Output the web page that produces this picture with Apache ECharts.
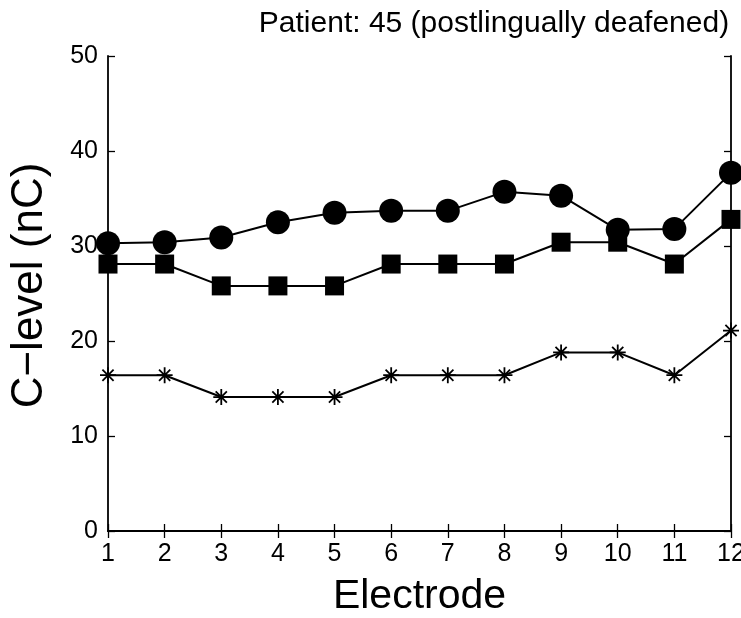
<!DOCTYPE html>
<html><head><meta charset="utf-8">
<script src="https://cdn.jsdelivr.net/npm/echarts@6/dist/echarts.min.js"></script>
<style>html,body{margin:0;padding:0;background:#fff}#c{width:741px;height:618px}</style>
</head><body><div id="c"></div>
<script>
const electrodes = [1,2,3,4,5,6,7,8,9,10,11,12];
const circleLevels = [30.3,30.4,30.9,32.5,33.5,33.7,33.7,35.7,35.3,31.7,31.8,37.7];
const squareLevels = [28.1,28.1,25.8,25.8,25.8,28.1,28.1,28.1,30.4,30.4,28.1,32.8];
const starLevels = [16.4,16.4,14.1,14.1,14.1,16.4,16.4,16.4,18.8,18.8,16.4,21.1];
const titleText = 'Patient: 45 (postlingually deafened)';
const xName = 'Electrode';
const yName = 'C\u2212level (nC)';

const font = 'Liberation Sans, Arial, Helvetica, sans-serif';
const pairs = arr => electrodes.map((e,i)=>[e,arr[i]]);
const chart = echarts.init(document.getElementById('c'));
const axisLine = {show:true,lineStyle:{color:'#000',width:1.8}};
const tick = {show:true,inside:true,length:7,lineStyle:{color:'#000',width:1.3}};
const lineBase = {type:'line',lineStyle:{color:'#000',width:2},itemStyle:{color:'#000'},animation:false,z:3};
chart.setOption({
  animation:false,
  title:{text:titleText,left:489,top:4,textAlign:'center',textStyle:{fontFamily:font,fontSize:30,fontWeight:'normal',color:'#000'}},
  grid:{left:108,right:10,top:56,bottom:87,containLabel:false,outerBoundsMode:'none'},
  xAxis:[
    {type:'value',min:1,max:12,interval:1,position:'bottom',axisLine,axisTick:tick,splitLine:{show:false},
     axisLabel:{color:'#000',fontFamily:font,fontSize:25,margin:11},
     name:xName,nameLocation:'middle',nameGap:45,nameTextStyle:{color:'#000',fontFamily:font,fontSize:41}},
    {type:'value',min:1,max:12,interval:1,position:'top',axisLine,axisTick:tick,axisLabel:{show:false},splitLine:{show:false}}
  ],
  yAxis:[
    {type:'value',min:0,max:50,interval:10,position:'left',axisLine,axisTick:tick,splitLine:{show:false},
     axisLabel:{color:'#000',fontFamily:font,fontSize:25,margin:10},
     name:yName,nameLocation:'middle',nameGap:56,nameTextStyle:{color:'#000',fontFamily:font,fontSize:44,padding:[0,0,0,16]}},
    {type:'value',min:0,max:50,interval:10,position:'right',axisLine,axisTick:tick,axisLabel:{show:false},splitLine:{show:false}}
  ],
  series:[
    Object.assign({},lineBase,{name:'circle',data:pairs(circleLevels),symbol:'circle',symbolSize:24}),
    Object.assign({},lineBase,{name:'square',data:pairs(squareLevels),symbol:'rect',symbolSize:19}),
    Object.assign({},lineBase,{name:'star',data:pairs(starLevels),
      symbol:'path://M0,-10L0,10M-10,0L10,0M-7,-7L7,7M-7,7L7,-7',symbolSize:16,
      itemStyle:{color:'none',borderColor:'#000',borderWidth:1.8}})
  ]
});
</script></body></html>
